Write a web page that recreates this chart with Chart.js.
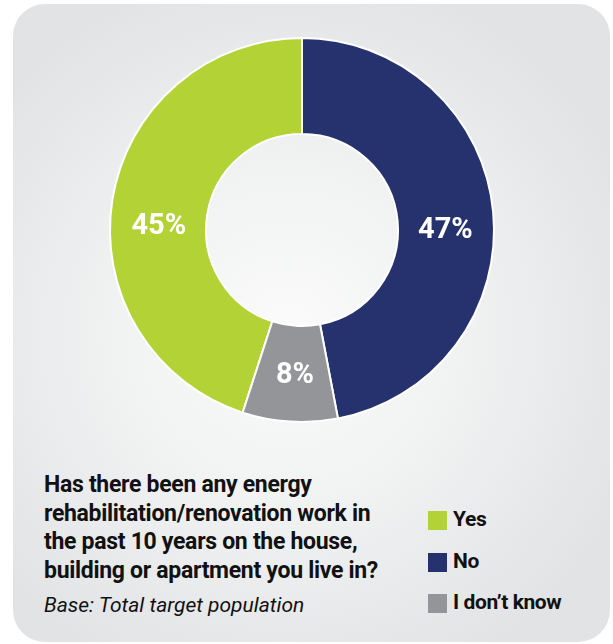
<!DOCTYPE html>
<html>
<head>
<meta charset="utf-8">
<script src="https://cdn.jsdelivr.net/npm/chart.js@4"></script>
<style>
  html, body { margin: 0; padding: 0; background: #fff; }
  body { width: 613px; height: 644px; position: relative; overflow: hidden; font-family: Roboto, "Liberation Sans", sans-serif; }
  #panel {
    position: absolute; left: 13px; top: 4px; width: 597px; height: 638px;
    border-radius: 32px;
    background: radial-gradient(ellipse 62% 58% at 46% 52%, #fbfbfb 0%, #f1f2f2 45%, #e2e3e5 100%);
  }
  #chart-wrap { position: absolute; left: 0; top: 0; width: 613px; height: 460px; }
  #question {
    position: absolute; left: 44px; top: 471px; margin: 0;
    font-size: 23px; font-weight: 700; line-height: 28.5px; color: #111;
    letter-spacing: -0.3px;
  }
  #base {
    position: absolute; left: 44px; top: 593px; margin: 0;
    font-size: 21px; font-style: italic; font-weight: 400; color: #111;
    letter-spacing: 0;
  }
  #legend { position: absolute; left: 428px; top: 511px; margin: 0; padding: 0; list-style: none; }
  #legend li { height: 41.5px; position: relative; }
  #legend span.box { position: absolute; left: 0; top: 0; width: 19px; height: 19px; }
  #legend span.txt { position: absolute; left: 25px; top: -4px; font-size: 21px; font-weight: 700; color: #111; white-space: nowrap; letter-spacing: -0.4px; }
</style>
</head>
<body>
<div id="panel"></div>
<div id="chart-wrap"><canvas id="energy-chart" width="613" height="460"></canvas></div>
<p id="question">Has there been any energy<br>rehabilitation/renovation work in<br>the past 10 years on the house,<br>building or apartment you live in?</p>
<p id="base">Base: Total target population</p>
<ul id="legend"></ul>
<script>
var answers = ['Yes', 'No', 'I don\u2019t know'];
var shares = [45, 47, 8];
var sliceColors = ['#b3d235', '#26326e', '#939598'];

// percentage labels inside each ring segment
var sliceLabels = {
  id: 'sliceLabels',
  afterDatasetsDraw: function (chart, args, opts) {
    var ctx = chart.ctx;
    var arcs = chart.getDatasetMeta(0).data;
    ctx.save();
    ctx.fillStyle = '#ffffff';
    ctx.font = 'bold 29px Roboto, "Liberation Sans", sans-serif';
    ctx.textAlign = 'center';
    ctx.textBaseline = 'middle';
    arcs.forEach(function (arc, i) {
      var p = arc.getProps(['x', 'y', 'startAngle', 'endAngle', 'innerRadius', 'outerRadius']);
      var mid = (p.startAngle + p.endAngle) / 2;
      var r = (p.innerRadius + p.outerRadius) / 2;
      var shift = opts.shift[i] || [0, 0];
      var x = p.x + Math.cos(mid) * r + shift[0];
      var y = p.y + Math.sin(mid) * r + shift[1];
      ctx.fillText(shares[i] + '%', x, y);
    });
    ctx.restore();
  }
};

var ctx = document.getElementById('energy-chart').getContext('2d');
var chart = new Chart(ctx, {
  type: 'doughnut',
  data: {
    labels: answers,
    datasets: [{
      data: shares,
      backgroundColor: sliceColors,
      borderColor: '#ffffff',
      borderWidth: 2
    }]
  },
  options: {
    responsive: false,
    animation: false,
    rotation: 198,
    radius: 192,
    cutout: '50%',
    layout: { padding: { left: 0, right: 9, top: 0, bottom: 0 } },
    plugins: {
      legend: { display: false },
      tooltip: { enabled: false },
      sliceLabels: { shift: [[-1, 19], [0, 14], [2, 2]] }
    }
  },
  plugins: [sliceLabels]
});

// legend list beside the question text
var legendEl = document.getElementById('legend');
answers.forEach(function (name, i) {
  var li = document.createElement('li');
  li.innerHTML = '<span class="box" style="background:' + sliceColors[i] + '"></span><span class="txt"></span>';
  li.querySelector('.txt').textContent = name;
  legendEl.appendChild(li);
});
</script>
</body>
</html>
